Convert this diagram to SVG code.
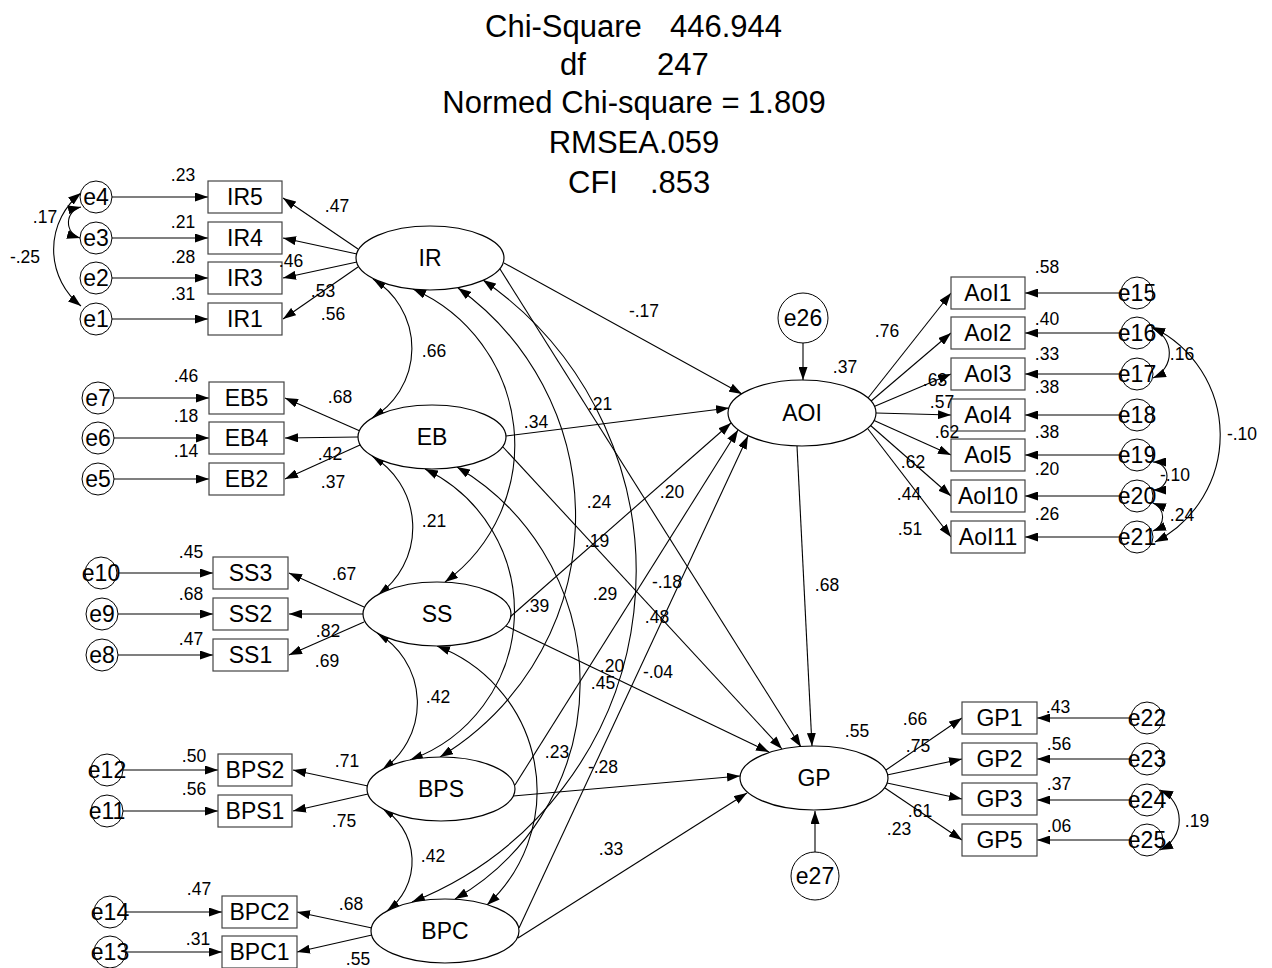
<svg xmlns="http://www.w3.org/2000/svg" width="1272" height="968" viewBox="0 0 1272 968">
<style>
  text { font-family: "Liberation Sans", Arial, sans-serif; fill: #000; }
  .ttl { font-size: 31px; }
  .nd { font-size: 23px; text-anchor: middle; }
  .lab { font-size: 17.5px; text-anchor: middle; }
  .box { fill: #fff; stroke: #444; stroke-width: 1.2; }
  .lat { fill: #fff; stroke: #000; stroke-width: 1.2; }
  .err { fill: #fff; stroke: #000; stroke-width: 1; }
  .c path, .c line { fill: none; stroke: #000; stroke-width: 1.1; }
  .one { marker-end: url(#ah); }
  .two { marker-start: url(#ah); marker-end: url(#ah); }
</style>
<defs>
  <marker id="ah" viewBox="0 0 13 9" refX="13" refY="4.5" markerWidth="13" markerHeight="9" markerUnits="userSpaceOnUse" orient="auto-start-reverse">
    <path d="M0,0 L13,4.5 L0,9 z" fill="#000"/>
  </marker>
</defs>
<rect width="1272" height="968" fill="#fff"/>

<!-- fit statistics -->
<g id="fit">
  <text class="ttl" x="485" y="37">Chi-Square</text>
  <text class="ttl" x="670" y="37">446.944</text>
  <text class="ttl" x="560" y="75">df</text>
  <text class="ttl" x="657" y="75">247</text>
  <text class="ttl" x="634" y="113" text-anchor="middle">Normed Chi-square = 1.809</text>
  <text class="ttl" x="634" y="153" text-anchor="middle">RMSEA.059</text>
  <text class="ttl" x="568" y="193">CFI</text>
  <text class="ttl" x="650" y="193">.853</text>
</g>

<!-- connectors -->
<g id="connectors" class="c">
  <!-- covariances among exogenous factors -->
  <path class="two" d="M373,279 A81,81 0 0 1 372,418"/>
  <path class="two" d="M372,456 A83,83 0 0 1 378,595"/>
  <path class="two" d="M377,633 A81,81 0 0 1 382,770"/>
  <path class="two" d="M382,808 A62,62 0 0 1 387,911"/>
  <path class="two" d="M413,289 A170,170 0 0 1 445,582"/>
  <path class="two" d="M458,288 A281,281 0 0 1 440,757"/>
  <path class="two" d="M483,280 A355,355 0 0 1 412,902"/>
  <path class="two" d="M425,469 A158,158 0 0 1 410,760"/>
  <path class="two" d="M457,467 A250,250 0 0 1 455,899"/>
  <path class="two" d="M437,646 A155,155 0 0 1 487,905"/>

  <!-- error covariances -->
  <path class="two" d="M81,193 A72,72 0 0 0 81,306"/>
  <path class="two" d="M81,207 A16,16 0 0 0 80,238"/>
  <path class="two" d="M1152,328 A27,27 0 0 1 1153,378"/>
  <path class="two" d="M1152,327 A120,120 0 0 1 1155,542"/>
  <path class="two" d="M1153,462 A14,14 0 0 1 1153,490"/>
  <path class="two" d="M1153,503 A15,15 0 0 1 1153,531"/>
  <path class="two" d="M1160,790 A33,33 0 0 1 1160,850"/>

  <!-- structural paths -->
  <line class="one" x1="504" y1="263" x2="742" y2="394"/>
  <line class="one" x1="506" y1="436" x2="729" y2="408"/>
  <line class="one" x1="510" y1="617" x2="731" y2="423"/>
  <line class="one" x1="515" y1="785" x2="738" y2="430"/>
  <line class="one" x1="519" y1="928" x2="748" y2="436"/>
  <line class="one" x1="500" y1="269" x2="801" y2="747"/>
  <line class="one" x1="503" y1="447" x2="782" y2="749"/>
  <line class="one" x1="506" y1="626" x2="769" y2="752"/>
  <line class="one" x1="513" y1="796" x2="740" y2="776"/>
  <line class="one" x1="518" y1="938" x2="747" y2="793"/>
  <line class="one" x1="797" y1="446" x2="812" y2="746"/>
  <line class="one" x1="803" y1="343" x2="803" y2="380"/>
  <line class="one" x1="815" y1="852" x2="815" y2="811"/>

  <!-- loadings -->
  <line class="one" x1="358" y1="249" x2="283" y2="198"/>
  <line class="one" x1="357" y1="254" x2="283" y2="238"/>
  <line class="one" x1="357" y1="262" x2="283" y2="278"/>
  <line class="one" x1="358" y1="267" x2="283" y2="319"/>
  <line class="one" x1="360" y1="431" x2="285" y2="398"/>
  <line class="one" x1="358" y1="437" x2="285" y2="438"/>
  <line class="one" x1="360" y1="445" x2="285" y2="479"/>
  <line class="one" x1="364" y1="607" x2="289" y2="573"/>
  <line class="one" x1="363" y1="614" x2="289" y2="614"/>
  <line class="one" x1="364" y1="622" x2="289" y2="655"/>
  <line class="one" x1="368" y1="786" x2="293" y2="770"/>
  <line class="one" x1="368" y1="794" x2="293" y2="811"/>
  <line class="one" x1="372" y1="928" x2="297" y2="912"/>
  <line class="one" x1="372" y1="935" x2="297" y2="952"/>
  <line class="one" x1="868" y1="398" x2="951" y2="293"/>
  <line class="one" x1="870" y1="402" x2="951" y2="333"/>
  <line class="one" x1="873" y1="407" x2="951" y2="374"/>
  <line class="one" x1="876" y1="413" x2="951" y2="415"/>
  <line class="one" x1="873" y1="420" x2="951" y2="455"/>
  <line class="one" x1="870" y1="425" x2="951" y2="496"/>
  <line class="one" x1="868" y1="429" x2="951" y2="537"/>
  <line class="one" x1="886" y1="770" x2="962" y2="718"/>
  <line class="one" x1="887" y1="775" x2="962" y2="759"/>
  <line class="one" x1="887" y1="783" x2="962" y2="799"/>
  <line class="one" x1="885" y1="788" x2="962" y2="840"/>

  <!-- measurement errors -->
  <line class="one" x1="112" y1="197" x2="208" y2="197"/>
  <line class="one" x1="112" y1="238" x2="208" y2="238"/>
  <line class="one" x1="112" y1="278" x2="208" y2="278"/>
  <line class="one" x1="112" y1="319" x2="208" y2="319"/>
  <line class="one" x1="114" y1="398" x2="209" y2="398"/>
  <line class="one" x1="114" y1="438" x2="209" y2="438"/>
  <line class="one" x1="114" y1="479" x2="209" y2="479"/>
  <line class="one" x1="118" y1="573" x2="213" y2="573"/>
  <line class="one" x1="118" y1="614" x2="213" y2="614"/>
  <line class="one" x1="118" y1="655" x2="213" y2="655"/>
  <line class="one" x1="123" y1="770" x2="218" y2="770"/>
  <line class="one" x1="123" y1="811" x2="218" y2="811"/>
  <line class="one" x1="126" y1="912" x2="222" y2="912"/>
  <line class="one" x1="126" y1="952" x2="222" y2="952"/>
  <line class="one" x1="1121" y1="293" x2="1025" y2="293"/>
  <line class="one" x1="1121" y1="333" x2="1025" y2="333"/>
  <line class="one" x1="1121" y1="374" x2="1025" y2="374"/>
  <line class="one" x1="1121" y1="415" x2="1025" y2="415"/>
  <line class="one" x1="1121" y1="455" x2="1025" y2="455"/>
  <line class="one" x1="1121" y1="496" x2="1025" y2="496"/>
  <line class="one" x1="1121" y1="537" x2="1025" y2="537"/>
  <line class="one" x1="1131" y1="718" x2="1037" y2="718"/>
  <line class="one" x1="1131" y1="759" x2="1037" y2="759"/>
  <line class="one" x1="1131" y1="800" x2="1037" y2="800"/>
  <line class="one" x1="1131" y1="840" x2="1037" y2="840"/>
</g>

<!-- latent factors -->
<g id="IR"><ellipse class="lat" cx="430" cy="258" rx="74" ry="32"/><text class="nd" x="430" y="266">IR</text></g>
<g id="EB"><ellipse class="lat" cx="432" cy="437" rx="74" ry="32"/><text class="nd" x="432" y="445">EB</text></g>
<g id="SS"><ellipse class="lat" cx="437" cy="614" rx="74" ry="32"/><text class="nd" x="437" y="622">SS</text></g>
<g id="BPS"><ellipse class="lat" cx="441" cy="789" rx="74" ry="32"/><text class="nd" x="441" y="797">BPS</text></g>
<g id="BPC"><ellipse class="lat" cx="445" cy="931" rx="74" ry="32"/><text class="nd" x="445" y="939">BPC</text></g>
<g id="AOI"><ellipse class="lat" cx="802" cy="413" rx="74" ry="33"/><text class="nd" x="802" y="421">AOI</text></g>
<g id="GP"><ellipse class="lat" cx="814" cy="778" rx="74" ry="32"/><text class="nd" x="814" y="786">GP</text></g>

<!-- indicators -->
<g id="IR5"><rect class="box" x="208" y="181" width="74" height="32"/><text class="nd" x="245" y="205">IR5</text></g>
<g id="IR4"><rect class="box" x="208" y="222" width="74" height="32"/><text class="nd" x="245" y="246">IR4</text></g>
<g id="IR3"><rect class="box" x="208" y="262" width="74" height="32"/><text class="nd" x="245" y="286">IR3</text></g>
<g id="IR1"><rect class="box" x="208" y="303" width="74" height="32"/><text class="nd" x="245" y="327">IR1</text></g>
<g id="EB5"><rect class="box" x="209" y="382" width="75" height="32"/><text class="nd" x="246.5" y="406">EB5</text></g>
<g id="EB4"><rect class="box" x="209" y="422" width="75" height="32"/><text class="nd" x="246.5" y="446">EB4</text></g>
<g id="EB2"><rect class="box" x="209" y="463" width="75" height="32"/><text class="nd" x="246.5" y="487">EB2</text></g>
<g id="SS3"><rect class="box" x="213" y="557" width="75" height="32"/><text class="nd" x="250.5" y="581">SS3</text></g>
<g id="SS2"><rect class="box" x="213" y="598" width="75" height="32"/><text class="nd" x="250.5" y="622">SS2</text></g>
<g id="SS1"><rect class="box" x="213" y="639" width="75" height="32"/><text class="nd" x="250.5" y="663">SS1</text></g>
<g id="BPS2"><rect class="box" x="218" y="754" width="74" height="32"/><text class="nd" x="255" y="778">BPS2</text></g>
<g id="BPS1"><rect class="box" x="218" y="795" width="74" height="32"/><text class="nd" x="255" y="819">BPS1</text></g>
<g id="BPC2"><rect class="box" x="222" y="896" width="75" height="32"/><text class="nd" x="259.5" y="920">BPC2</text></g>
<g id="BPC1"><rect class="box" x="222" y="936" width="75" height="32"/><text class="nd" x="259.5" y="960">BPC1</text></g>
<g id="AoI1"><rect class="box" x="951" y="277" width="74" height="32"/><text class="nd" x="988" y="301">AoI1</text></g>
<g id="AoI2"><rect class="box" x="951" y="317" width="74" height="32"/><text class="nd" x="988" y="341">AoI2</text></g>
<g id="AoI3"><rect class="box" x="951" y="358" width="74" height="32"/><text class="nd" x="988" y="382">AoI3</text></g>
<g id="AoI4"><rect class="box" x="951" y="399" width="74" height="32"/><text class="nd" x="988" y="423">AoI4</text></g>
<g id="AoI5"><rect class="box" x="951" y="439" width="74" height="32"/><text class="nd" x="988" y="463">AoI5</text></g>
<g id="AoI10"><rect class="box" x="951" y="480" width="74" height="32"/><text class="nd" x="988" y="504">AoI10</text></g>
<g id="AoI11"><rect class="box" x="951" y="521" width="74" height="32"/><text class="nd" x="988" y="545">AoI11</text></g>
<g id="GP1"><rect class="box" x="962" y="702" width="75" height="32"/><text class="nd" x="999.5" y="726">GP1</text></g>
<g id="GP2"><rect class="box" x="962" y="743" width="75" height="32"/><text class="nd" x="999.5" y="767">GP2</text></g>
<g id="GP3"><rect class="box" x="962" y="783" width="75" height="32"/><text class="nd" x="999.5" y="807">GP3</text></g>
<g id="GP5"><rect class="box" x="962" y="824" width="75" height="32"/><text class="nd" x="999.5" y="848">GP5</text></g>

<!-- error terms -->
<g id="e4"><circle class="err" cx="96" cy="197" r="16"/><text class="nd" x="96" y="205">e4</text></g>
<g id="e3"><circle class="err" cx="96" cy="238" r="16"/><text class="nd" x="96" y="246">e3</text></g>
<g id="e2"><circle class="err" cx="96" cy="278" r="16"/><text class="nd" x="96" y="286">e2</text></g>
<g id="e1"><circle class="err" cx="96" cy="319" r="16"/><text class="nd" x="96" y="327">e1</text></g>
<g id="e7"><circle class="err" cx="98" cy="398" r="16"/><text class="nd" x="98" y="406">e7</text></g>
<g id="e6"><circle class="err" cx="98" cy="438" r="16"/><text class="nd" x="98" y="446">e6</text></g>
<g id="e5"><circle class="err" cx="98" cy="479" r="16"/><text class="nd" x="98" y="487">e5</text></g>
<g id="e10"><circle class="err" cx="101" cy="573" r="16"/><text class="nd" x="101" y="581">e10</text></g>
<g id="e9"><circle class="err" cx="102" cy="614" r="16"/><text class="nd" x="102" y="622">e9</text></g>
<g id="e8"><circle class="err" cx="102" cy="655" r="16"/><text class="nd" x="102" y="663">e8</text></g>
<g id="e12"><circle class="err" cx="107" cy="770" r="16"/><text class="nd" x="107" y="778">e12</text></g>
<g id="e11"><circle class="err" cx="107" cy="811" r="16"/><text class="nd" x="107" y="819">e11</text></g>
<g id="e14"><circle class="err" cx="110" cy="912" r="16"/><text class="nd" x="110" y="920">e14</text></g>
<g id="e13"><circle class="err" cx="110" cy="952" r="16"/><text class="nd" x="110" y="960">e13</text></g>
<g id="e15"><circle class="err" cx="1137" cy="293" r="16"/><text class="nd" x="1137" y="301">e15</text></g>
<g id="e16"><circle class="err" cx="1137" cy="333" r="16"/><text class="nd" x="1137" y="341">e16</text></g>
<g id="e17"><circle class="err" cx="1137" cy="374" r="16"/><text class="nd" x="1137" y="382">e17</text></g>
<g id="e18"><circle class="err" cx="1137" cy="415" r="16"/><text class="nd" x="1137" y="423">e18</text></g>
<g id="e19"><circle class="err" cx="1137" cy="455" r="16"/><text class="nd" x="1137" y="463">e19</text></g>
<g id="e20"><circle class="err" cx="1137" cy="496" r="16"/><text class="nd" x="1137" y="504">e20</text></g>
<g id="e21"><circle class="err" cx="1137" cy="537" r="16"/><text class="nd" x="1137" y="545">e21</text></g>
<g id="e22"><circle class="err" cx="1147" cy="718" r="16"/><text class="nd" x="1147" y="726">e22</text></g>
<g id="e23"><circle class="err" cx="1147" cy="759" r="16"/><text class="nd" x="1147" y="767">e23</text></g>
<g id="e24"><circle class="err" cx="1147" cy="800" r="16"/><text class="nd" x="1147" y="808">e24</text></g>
<g id="e25"><circle class="err" cx="1147" cy="840" r="16"/><text class="nd" x="1147" y="848">e25</text></g>
<g id="e26"><circle class="err" cx="803" cy="318" r="25"/><text class="nd" x="803" y="326">e26</text></g>
<g id="e27"><circle class="err" cx="815" cy="876" r="24"/><text class="nd" x="815" y="884">e27</text></g>

<!-- estimates -->
<g id="estimates">
  <text class="lab" x="183" y="181">.23</text>
  <text class="lab" x="337" y="212">.47</text>
  <text class="lab" x="45" y="223">.17</text>
  <text class="lab" x="183" y="228">.21</text>
  <text class="lab" x="25" y="263">-.25</text>
  <text class="lab" x="183" y="263">.28</text>
  <text class="lab" x="291" y="267">.46</text>
  <text class="lab" x="183" y="300">.31</text>
  <text class="lab" x="323" y="297">.53</text>
  <text class="lab" x="333" y="320">.56</text>
  <text class="lab" x="186" y="382">.46</text>
  <text class="lab" x="340" y="403">.68</text>
  <text class="lab" x="186" y="422">.18</text>
  <text class="lab" x="186" y="457">.14</text>
  <text class="lab" x="330" y="460">.42</text>
  <text class="lab" x="333" y="488">.37</text>
  <text class="lab" x="191" y="558">.45</text>
  <text class="lab" x="344" y="580">.67</text>
  <text class="lab" x="191" y="600">.68</text>
  <text class="lab" x="328" y="637">.82</text>
  <text class="lab" x="191" y="645">.47</text>
  <text class="lab" x="327" y="667">.69</text>
  <text class="lab" x="194" y="762">.50</text>
  <text class="lab" x="347" y="767">.71</text>
  <text class="lab" x="194" y="795">.56</text>
  <text class="lab" x="344" y="827">.75</text>
  <text class="lab" x="199" y="895">.47</text>
  <text class="lab" x="351" y="910">.68</text>
  <text class="lab" x="198" y="945">.31</text>
  <text class="lab" x="358" y="965">.55</text>

  <text class="lab" x="1047" y="273">.58</text>
  <text class="lab" x="887" y="337">.76</text>
  <text class="lab" x="845" y="373">.37</text>
  <text class="lab" x="1047" y="325">.40</text>
  <text class="lab" x="1182" y="360">.16</text>
  <text class="lab" x="1047" y="360">.33</text>
  <text class="lab" x="935" y="386">.63</text>
  <text class="lab" x="1047" y="393">.38</text>
  <text class="lab" x="942" y="408">.57</text>
  <text class="lab" x="947" y="438">.62</text>
  <text class="lab" x="1047" y="438">.38</text>
  <text class="lab" x="1242" y="440">-.10</text>
  <text class="lab" x="1047" y="475">.20</text>
  <text class="lab" x="913" y="468">.62</text>
  <text class="lab" x="1175" y="481">-.10</text>
  <text class="lab" x="909" y="500">.44</text>
  <text class="lab" x="1047" y="520">.26</text>
  <text class="lab" x="1182" y="521">.24</text>
  <text class="lab" x="910" y="535">.51</text>

  <text class="lab" x="857" y="737">.55</text>
  <text class="lab" x="915" y="725">.66</text>
  <text class="lab" x="1058" y="713">.43</text>
  <text class="lab" x="918" y="752">.75</text>
  <text class="lab" x="1059" y="750">.56</text>
  <text class="lab" x="1059" y="790">.37</text>
  <text class="lab" x="920" y="817">.61</text>
  <text class="lab" x="899" y="835">.23</text>
  <text class="lab" x="1197" y="827">.19</text>
  <text class="lab" x="1059" y="832">.06</text>

  <text class="lab" x="434" y="357">.66</text>
  <text class="lab" x="644" y="317">-.17</text>
  <text class="lab" x="600" y="410">.21</text>
  <text class="lab" x="536" y="428">.34</text>
  <text class="lab" x="672" y="498">.20</text>
  <text class="lab" x="434" y="527">.21</text>
  <text class="lab" x="599" y="508">.24</text>
  <text class="lab" x="597" y="547">.19</text>
  <text class="lab" x="537" y="612">.39</text>
  <text class="lab" x="605" y="600">.29</text>
  <text class="lab" x="667" y="588">-.18</text>
  <text class="lab" x="657" y="623">.48</text>
  <text class="lab" x="612" y="672">.20</text>
  <text class="lab" x="603" y="689">.45</text>
  <text class="lab" x="658" y="678">-.04</text>
  <text class="lab" x="438" y="703">.42</text>
  <text class="lab" x="557" y="758">.23</text>
  <text class="lab" x="603" y="773">-.28</text>
  <text class="lab" x="433" y="862">.42</text>
  <text class="lab" x="611" y="855">.33</text>
  <text class="lab" x="827" y="591">.68</text>
</g>
</svg>
